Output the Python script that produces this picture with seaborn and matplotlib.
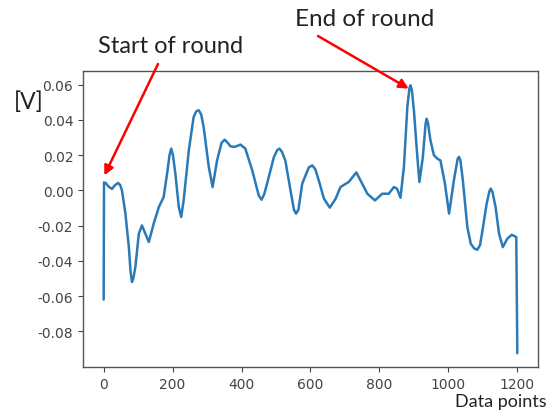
import matplotlib
matplotlib.use("Agg")
import matplotlib.pyplot as plt
import seaborn as sns
import pandas as pd

# Sample index and measured voltage along one round
data_points = [
    0, 1, 6, 14, 24, 33, 42, 48, 53, 63, 73, 78, 82, 86, 92, 102, 111, 121, 131,
    145, 160, 174, 184, 191, 196, 201, 208, 218, 225, 232, 247, 261, 269, 276,
    283, 290, 305, 316, 329, 342, 351, 360, 368, 380, 397, 411, 431, 450, 458,
    466, 474, 494, 504, 510, 517, 527, 542, 552, 558, 565, 576, 595, 605, 614,
    624, 639, 656, 673, 687, 711, 733, 750, 765, 787, 808, 827, 842, 851, 861,
    871, 881, 887, 890, 894, 900, 910, 916, 926, 934, 937, 941, 948, 958, 968,
    977, 990, 1002, 1016, 1027, 1031, 1035, 1042, 1055, 1065, 1075, 1084, 1092,
    1099, 1111, 1119, 1123, 1128, 1137, 1147, 1158, 1171, 1184, 1197, 1200,
]
voltage = [
    -0.062, 0.0045, 0.0042, 0.0022, 0.0008, 0.0030, 0.0042, 0.0030, 0.0, -0.013,
    -0.032, -0.046, -0.052, -0.050, -0.0435, -0.0246, -0.0199, -0.0246, -0.0293,
    -0.019, -0.0095, -0.0038, 0.0095, 0.0200, 0.0237, 0.0200, 0.0095, -0.0095,
    -0.0151, -0.0057, 0.0227, 0.0417, 0.0450, 0.0455, 0.0430, 0.036, 0.0133,
    0.0019, 0.017, 0.0270, 0.0288, 0.0270, 0.025, 0.0247, 0.026, 0.0237, 0.0114,
    -0.0030, -0.0053, -0.0020, 0.0038, 0.019, 0.0230, 0.0237, 0.0220, 0.017,
    0.0, -0.0110, -0.0132, -0.0110, 0.0038, 0.0130, 0.0142, 0.0120, 0.0057,
    -0.0047, -0.0098, -0.0047, 0.0019, 0.0048, 0.0102, 0.0038, -0.0019, -0.0057,
    -0.0019, -0.0019, 0.0019, 0.0010, -0.0042, 0.0133, 0.0474, 0.0580, 0.0597,
    0.0570, 0.0455, 0.019, 0.0048, 0.019, 0.0380, 0.0407, 0.0380, 0.0284,
    0.0200, 0.018, 0.017, 0.0038, -0.0132, 0.0057, 0.0180, 0.019, 0.0170,
    0.0057, -0.0208, -0.0303, -0.0330, -0.0337, -0.0310, -0.0227, -0.0076,
    -0.0005, 0.001, -0.0010, -0.0095, -0.0246, -0.0322, -0.0274, -0.0252,
    -0.0265, -0.0925,
]
y_ticks = [-0.08, -0.06, -0.04, -0.02, 0.00, 0.02, 0.04, 0.06]
x_ticks = [0, 200, 400, 600, 800, 1000, 1200]

# Annotated instants: start and end of the round
start_point = (2, 0.0085)
end_point = (885, 0.0578)

df = pd.DataFrame({"Data points": data_points, "Voltage": voltage})

sns.set_style("ticks")
label_font = ["Lato", "DejaVu Sans"]

fig = plt.figure(figsize=(5.51, 4.14), dpi=100)
ax = fig.add_axes([0.1506, 0.1111, 0.8258, 0.7150])

sns.lineplot(data=df, x="Data points", y="Voltage", ax=ax,
             color="#2a7ab8", linewidth=1.8, estimator=None, sort=False)

ax.set_xticks(x_ticks)
ax.set_xticklabels([str(t) for t in x_ticks])
ax.set_yticks(y_ticks)
ax.set_yticklabels([f"{t:.2f}" for t in y_ticks])
ax.set_xlim(-60, 1260)
ax.set_ylim(-0.1003, 0.0678)
ax.set_xlabel("")
ax.set_ylabel("")
ax.tick_params(labelsize=10, labelcolor="#444444", color="#444444",
               length=3.5, width=0.8)
for side in ["top", "right", "bottom", "left"]:
    ax.spines[side].set_visible(True)
    ax.spines[side].set_color("#555555")
    ax.spines[side].set_linewidth(1.0)

arrow = dict(arrowstyle="-|>", color="red", lw=1.8, mutation_scale=14,
             shrinkA=0, shrinkB=0)
ax.annotate("", xy=start_point, xycoords="data",
            xytext=(158 / 551, 1 - 65 / 414), textcoords="figure fraction",
            arrowprops=arrow, annotation_clip=False)
ax.annotate("", xy=end_point, xycoords="data",
            xytext=(318 / 551, 1 - 37 / 414), textcoords="figure fraction",
            arrowprops=arrow, annotation_clip=False)

fig.text(98 / 551, 1 - 53 / 414, "Start of round", family=label_font,
         fontsize=17, color="#222222", ha="left", va="baseline")
fig.text(295 / 551, 1 - 26 / 414, "End of round", family=label_font,
         fontsize=17.5, color="#222222", ha="left", va="baseline")
fig.text(14 / 551, 1 - 102 / 414, "[V]", family=label_font,
         fontsize=16.5, color="#222222", ha="left", va="center")
fig.text(547 / 551, 1 - 407 / 414, "Data points", family=label_font,
         fontsize=13, color="#222222", ha="right", va="baseline")

fig.savefig("out.png", dpi=100)
